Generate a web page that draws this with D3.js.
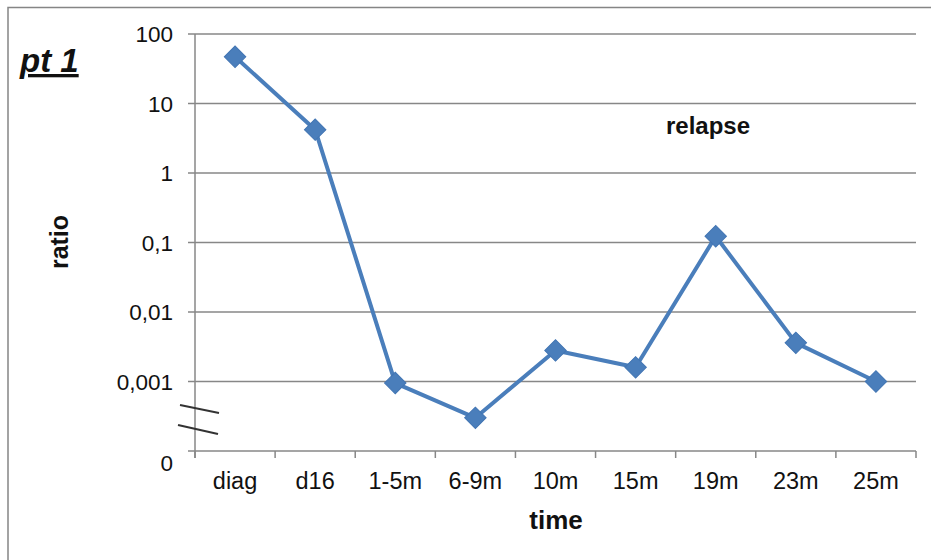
<!DOCTYPE html>
<html>
<head>
<meta charset="utf-8">
<script src="https://cdn.jsdelivr.net/npm/d3@7/dist/d3.min.js"></script>
<style>
  html, body { margin: 0; padding: 0; background: #fff; }
  svg { display: block; font-family: Arial, "Liberation Sans", sans-serif; }
</style>
</head>
<body>
<svg id="chart" width="931" height="560"></svg>
<script>
// Time points and measured ratio per sample
const categories = ["diag", "d16", "1-5m", "6-9m", "10m", "15m", "19m", "23m", "25m"];
const ratios = [47, 4.2, 0.00095, 0.0003, 0.0028, 0.0016, 0.123, 0.0036, 0.001];

// Y axis: log decades; the lowest gridline stands for zero (axis break below 0,001)
const tickValues = [0.0001, 0.001, 0.01, 0.1, 1, 10, 100];
const tickLabels = ["0", "0,001", "0,01", "0,1", "1", "10", "100"];

const svg = d3.select("#chart");
const W = 931, H = 560;
const plotLeft = 195, plotRight = 916, plotTop = 34, plotBottom = 451;

// Outer frame (top and left edges)
svg.append("path")
  .attr("d", `M8,${H} L8,7.5 L${W},7.5`)
  .attr("fill", "none").attr("stroke", "#858585").attr("stroke-width", 1.5);

const x = d3.scaleBand().domain(categories).range([plotLeft, plotRight]).paddingInner(0).paddingOuter(0);
const y = d3.scaleLog().domain([0.0001, 100]).range([plotBottom, plotTop]);

// Horizontal gridlines
svg.append("g").selectAll("line").data(tickValues.slice(1)).join("line")
  .attr("x1", plotLeft - 7).attr("x2", plotRight)
  .attr("y1", d => y(d)).attr("y2", d => y(d))
  .attr("stroke", "#878787").attr("stroke-width", 1.5);

// Y axis line and bottom axis
svg.append("line").attr("x1", plotLeft).attr("x2", plotLeft).attr("y1", plotTop).attr("y2", plotBottom + 7)
  .attr("stroke", "#878787").attr("stroke-width", 1.5);
svg.append("line").attr("x1", plotLeft - 7).attr("x2", plotRight).attr("y1", plotBottom).attr("y2", plotBottom)
  .attr("stroke", "#878787").attr("stroke-width", 1.5);

// X tick marks at category boundaries
const bounds = categories.map(c => x(c)).concat([x(categories[categories.length - 1]) + x.bandwidth()]);
svg.append("g").selectAll("line").data(bounds).join("line")
  .attr("x1", d => d).attr("x2", d => d)
  .attr("y1", plotBottom).attr("y2", plotBottom + 7)
  .attr("stroke", "#878787").attr("stroke-width", 1.5);

// Y tick labels
svg.append("g").selectAll("text").data(tickValues).join("text")
  .attr("x", 173)
  .attr("y", (d, i) => y(d) + (i === 0 ? 12 : 0))
  .attr("dy", "0.36em")
  .attr("text-anchor", "end")
  .attr("font-size", 22.5)
  .attr("fill", "#111")
  .text((d, i) => tickLabels[i]);

// X tick labels
svg.append("g").selectAll("text").data(categories).join("text")
  .attr("x", d => x(d) + x.bandwidth() / 2)
  .attr("y", 489)
  .attr("text-anchor", "middle")
  .attr("font-size", 23.5)
  .attr("fill", "#111")
  .text(d => d);

// Axis break marks
const breakMarks = [[180, 405, 219, 413], [178, 425, 218, 434]];
svg.append("g").selectAll("line").data(breakMarks).join("line")
  .attr("x1", d => d[0]).attr("y1", d => d[1]).attr("x2", d => d[2]).attr("y2", d => d[3])
  .attr("stroke", "#333").attr("stroke-width", 2);

// Data line
const line = d3.line()
  .x((d, i) => x(categories[i]) + x.bandwidth() / 2)
  .y(d => y(d));
svg.append("path").datum(ratios)
  .attr("d", line)
  .attr("fill", "none")
  .attr("stroke", "#4a7ebb")
  .attr("stroke-width", 4)
  .attr("stroke-linejoin", "round");

// Diamond markers: squares turned 45 degrees
const marker = d3.symbol().type(d3.symbolSquare).size(230);
svg.append("g").selectAll("path").data(ratios).join("path")
  .attr("transform", (d, i) => `translate(${x(categories[i]) + x.bandwidth() / 2},${y(d)}) rotate(45)`)
  .attr("d", marker)
  .attr("fill", "#4a7ebb")
  .attr("stroke", "#4275b3")
  .attr("stroke-width", 1);

// Titles and annotations
svg.append("text").attr("x", 20).attr("y", 72)
  .attr("font-size", 33).attr("font-weight", "bold").attr("font-style", "italic")
  .attr("text-decoration", "underline").attr("fill", "#111")
  .text("pt 1");

svg.append("text").attr("x", 708).attr("y", 134)
  .attr("text-anchor", "middle").attr("font-size", 24).attr("font-weight", "bold").attr("fill", "#111")
  .text("relapse");

svg.append("text").attr("transform", "translate(68,242) rotate(-90)")
  .attr("text-anchor", "middle").attr("font-size", 25).attr("font-weight", "bold").attr("fill", "#111")
  .text("ratio");

svg.append("text").attr("x", 556).attr("y", 529)
  .attr("text-anchor", "middle").attr("font-size", 26).attr("font-weight", "bold").attr("fill", "#111")
  .text("time");
</script>
</body>
</html>
